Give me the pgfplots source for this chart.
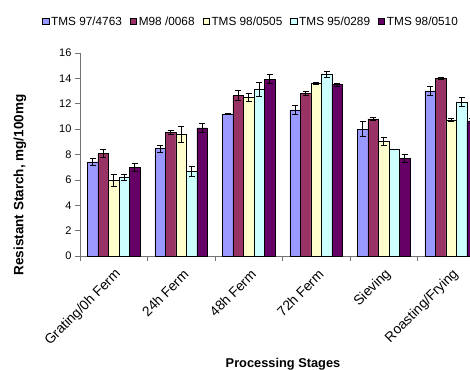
\documentclass[border=0pt]{standalone}
\usepackage{fontspec}
\setmainfont{Liberation Sans}
\usepackage{pgfplots}
\pgfplotsset{compat=1.18}
\definecolor{c1}{HTML}{9999FF}
\definecolor{c2}{HTML}{993366}
\definecolor{c3}{HTML}{FFFFCC}
\definecolor{c4}{HTML}{CCFFFF}
\definecolor{c5}{HTML}{660066}
\pgfplotsset{errbars/.style={error bars/.cd, y dir=both, y explicit,
  error bar style={line width=0.7pt,black},
  error mark options={rotate=90,mark size=3pt,line width=0.7pt,black}}}
\begin{document}
\begin{tikzpicture}
\useasboundingbox (-80pt,-113pt) rectangle (390pt,256pt);
\begin{axis}[
  at={(0pt,0pt)}, anchor=south west,
  scale only axis, width=390pt, height=203pt,
  xmin=-0.5, xmax=5.278, ymin=0, ymax=16,
  ybar=0pt, bar width=10.5pt,
  axis x line=bottom, axis y line=left,
  axis line style={-, draw=black!55, line width=0.6pt},
  tick align=outside,
  ytick={0,2,...,16},
  major tick length=5pt, minor tick length=5pt,
  tick style={draw=black!55, line width=0.6pt},
  xtick={0,...,5},
  major x tick style={draw=none},
  minor xtick={-0.5,0.5,...,4.5},
  xticklabels={Grating/0h Ferm, 24h Ferm, 48h Ferm, 72h Ferm, Sieving, Roasting/Frying},
  /pgf/number format/assume math mode=true,
  yticklabel style={font=\fontsize{11}{13}\selectfont},
  xticklabel style={font=\fontsize{13.8}{15}\selectfont, xshift=5pt, yshift=-11pt, rotate=45, anchor=east, inner sep=0pt},
  ylabel={Resistant Starch, mg/100mg},
  ylabel style={at={(axis description cs:-0.1538,0.35)}, anchor=center, font=\bfseries\fontsize{13.5}{15}\selectfont},
  xlabel={Processing Stages},
  xlabel style={at={(axis description cs:0.5205,-0.548)}, anchor=base, font=\bfseries\fontsize{12.8}{15}\selectfont},
  legend style={at={(axis description cs:0.4385,1.155)}, anchor=center, draw=none, fill=none,
    legend columns=-1, font=\fontsize{11.8}{14}\selectfont,
    /tikz/every even column/.append style={column sep=6pt}},
  legend image code/.code={\draw[#1,draw=black,line width=0.5pt] (0pt,-3.2pt) rectangle (6.4pt,3.2pt);},
]
\addplot[fill=c1, draw=black, line width=0.6pt, errbars] coordinates {
  (0,7.42) +- (0,0.24) (1,8.45) +- (0,0.25) (2,11.2) +- (0,0.03)
  (3,11.52) +- (0,0.34) (4,10.0) +- (0,0.59) (5,13.02) +- (0,0.37)};
\addplot[fill=c2, draw=black, line width=0.6pt, errbars] coordinates {
  (0,8.1) +- (0,0.34) (1,9.74) +- (0,0.14) (2,12.64) +- (0,0.38)
  (3,12.83) +- (0,0.14) (4,10.81) +- (0,0.08) (5,14.02) +- (0,0.08)};
\addplot[fill=c3, draw=black, line width=0.6pt, errbars] coordinates {
  (0,5.95) +- (0,0.45) (1,9.58) +- (0,0.6) (2,12.5) +- (0,0.3)
  (3,13.63) +- (0,0.07) (4,9.06) +- (0,0.3) (5,10.73) +- (0,0.1)};
\addplot[fill=c4, draw=black, line width=0.6pt, errbars] coordinates {
  (0,6.21) +- (0,0.22) (1,6.68) +- (0,0.4) (2,13.16) +- (0,0.55)
  (3,14.32) +- (0,0.2) (4,8.41) +- (0,0.02) (5,12.12) +- (0,0.36)};
\addplot[fill=c5, draw=black, line width=0.6pt, errbars] coordinates {
  (0,6.97) +- (0,0.32) (1,10.1) +- (0,0.34) (2,13.95) +- (0,0.37)
  (3,13.5) +- (0,0.12) (4,7.69) +- (0,0.3) (5,10.65) +- (0,0.2)};
\legend{TMS 97/4763, M98 /0068, TMS 98/0505, TMS 95/0289, TMS 98/0510}
\end{axis}
\end{tikzpicture}
\end{document}
